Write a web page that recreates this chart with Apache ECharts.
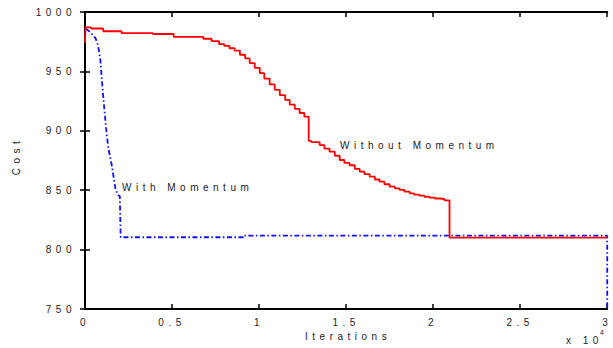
<!DOCTYPE html>
<html>
<head>
<meta charset="utf-8">
<script src="https://cdn.jsdelivr.net/npm/echarts@6/dist/echarts.min.js"></script>
<style>
  html, body { margin: 0; padding: 0; background: #fff; }
  #main { width: 613px; height: 348px; }
  #main text { letter-spacing: 4.5px; }
</style>
</head>
<body>
<div id="main"></div>
<script>
// x values are in units of 10^4 iterations
const xTicks = [0, 0.5, 1, 1.5, 2, 2.5, 3];
const yTicks = [750, 800, 850, 900, 950, 1000];

// "Without Momentum" (red, stepped)
const withoutMomentum = [
  [0, 974], [0.003, 987], [0.034, 986.1], [0.105, 983.8], [0.21, 982.3],
  [0.39, 981.5], [0.51, 979], [0.68, 977.5], [0.727, 975.5], [0.77, 973],
  [0.80, 971.5], [0.83, 969.5], [0.86, 967.5], [0.89, 964], [0.92, 961],
  [0.946, 957], [0.975, 953], [1.004, 948.5], [1.03, 944], [1.061, 939],
  [1.09, 934.5], [1.119, 930], [1.15, 926], [1.176, 922], [1.205, 918.5],
  [1.233, 915], [1.26, 912], [1.285, 891.5], [1.30, 890.5], [1.348, 888],
  [1.375, 885], [1.405, 882.4], [1.435, 879], [1.463, 875.4], [1.49, 873],
  [1.52, 871], [1.55, 868], [1.578, 865.6], [1.605, 863.5], [1.635, 861.4],
  [1.665, 859], [1.692, 857.2], [1.72, 855], [1.75, 853], [1.78, 851.5],
  [1.807, 850.2], [1.835, 848.8], [1.865, 847.4], [1.89, 846.3], [1.922, 845.4],
  [1.95, 844.5], [1.979, 843.7], [2.01, 843], [2.037, 842.6], [2.065, 841.5],
  [2.094, 810], [3.0, 810]
];

// "With Momentum" (blue, dash-dot)
const withMomentum = [
  [0.005, 986], [0.03, 983], [0.06, 978], [0.075, 972], [0.088, 960],
  [0.10, 937], [0.113, 915], [0.126, 895], [0.135, 885], [0.155, 870],
  [0.175, 851], [0.19, 846], [0.2, 845], [0.205, 810.4], [0.908, 810.4],
  [0.908, 811.7], [3.0, 811.7], [3.0, 750]
];

const labelWithout = 'Without Momentum';
const labelWith = 'With Momentum';

const FONT = 'Liberation Sans, Arial, sans-serif';
const TXT = '#222';

const chart = echarts.init(document.getElementById('main'), null, { renderer: 'svg' });

const axisLine = { show: true, lineStyle: { color: '#000', width: 2 } };
const axisTick = { show: true, inside: true, length: 5, lineStyle: { color: '#000', width: 1.5 } };
const fmt = v => String(v);

chart.setOption({
  animation: false,
  backgroundColor: '#fff',
  grid: { left: 85, top: 12, right: 5, bottom: 39 },
  xAxis: [
    {
      type: 'value', min: xTicks[0], max: xTicks[xTicks.length - 1], interval: 0.5,
      position: 'bottom',
      axisLine, axisTick, splitLine: { show: false },
      axisLabel: { color: TXT, fontFamily: FONT, fontSize: 10, margin: 8, formatter: fmt },
      name: 'Iterations', nameLocation: 'middle', nameGap: 16,
      nameTextStyle: { color: TXT, fontFamily: FONT, fontSize: 10, padding: [0, 0, 0, 4] }
    },
    {
      type: 'value', min: xTicks[0], max: xTicks[xTicks.length - 1], interval: 0.5,
      position: 'top',
      axisLine, axisTick, splitLine: { show: false }, axisLabel: { show: false }
    }
  ],
  yAxis: [
    {
      type: 'value', min: yTicks[0], max: yTicks[yTicks.length - 1], interval: 50,
      position: 'left',
      axisLine, axisTick, splitLine: { show: false },
      axisLabel: { color: TXT, fontFamily: FONT, fontSize: 10, margin: 9, formatter: fmt },
      name: 'Cost', nameLocation: 'middle', nameGap: 64, nameRotate: 90,
      nameTextStyle: { color: TXT, fontFamily: FONT, fontSize: 10, padding: [0, 0, 0, 9] }
    },
    {
      type: 'value', min: yTicks[0], max: yTicks[yTicks.length - 1], interval: 50,
      position: 'right',
      axisLine, axisTick, splitLine: { show: false }, axisLabel: { show: false }
    }
  ],
  series: [
    {
      name: labelWith, type: 'line', data: withMomentum, showSymbol: false,
      clip: false, z: 3,
      lineStyle: { color: '#1010ff', width: 1.8, type: [5, 2.5, 1.5, 2.5] }
    },
    {
      name: labelWithout, type: 'line', data: withoutMomentum, step: 'end',
      showSymbol: false, clip: false, z: 4,
      lineStyle: { color: '#ff0000', width: 1.8 }
    }
  ],
  graphic: [
    { type: 'text', left: 340, top: 140,
      style: { text: labelWithout, fill: TXT, font: '10px ' + FONT } },
    { type: 'text', left: 122, top: 182,
      style: { text: labelWith, fill: TXT, font: '10px ' + FONT } },
    { type: 'text', left: 566, top: 335,
      style: { text: 'x 10', fill: TXT, font: '10px ' + FONT } },
    { type: 'text', left: 600, top: 329,
      style: { text: '4', fill: TXT, font: '7px ' + FONT } }
  ]
});
</script>
</body>
</html>
